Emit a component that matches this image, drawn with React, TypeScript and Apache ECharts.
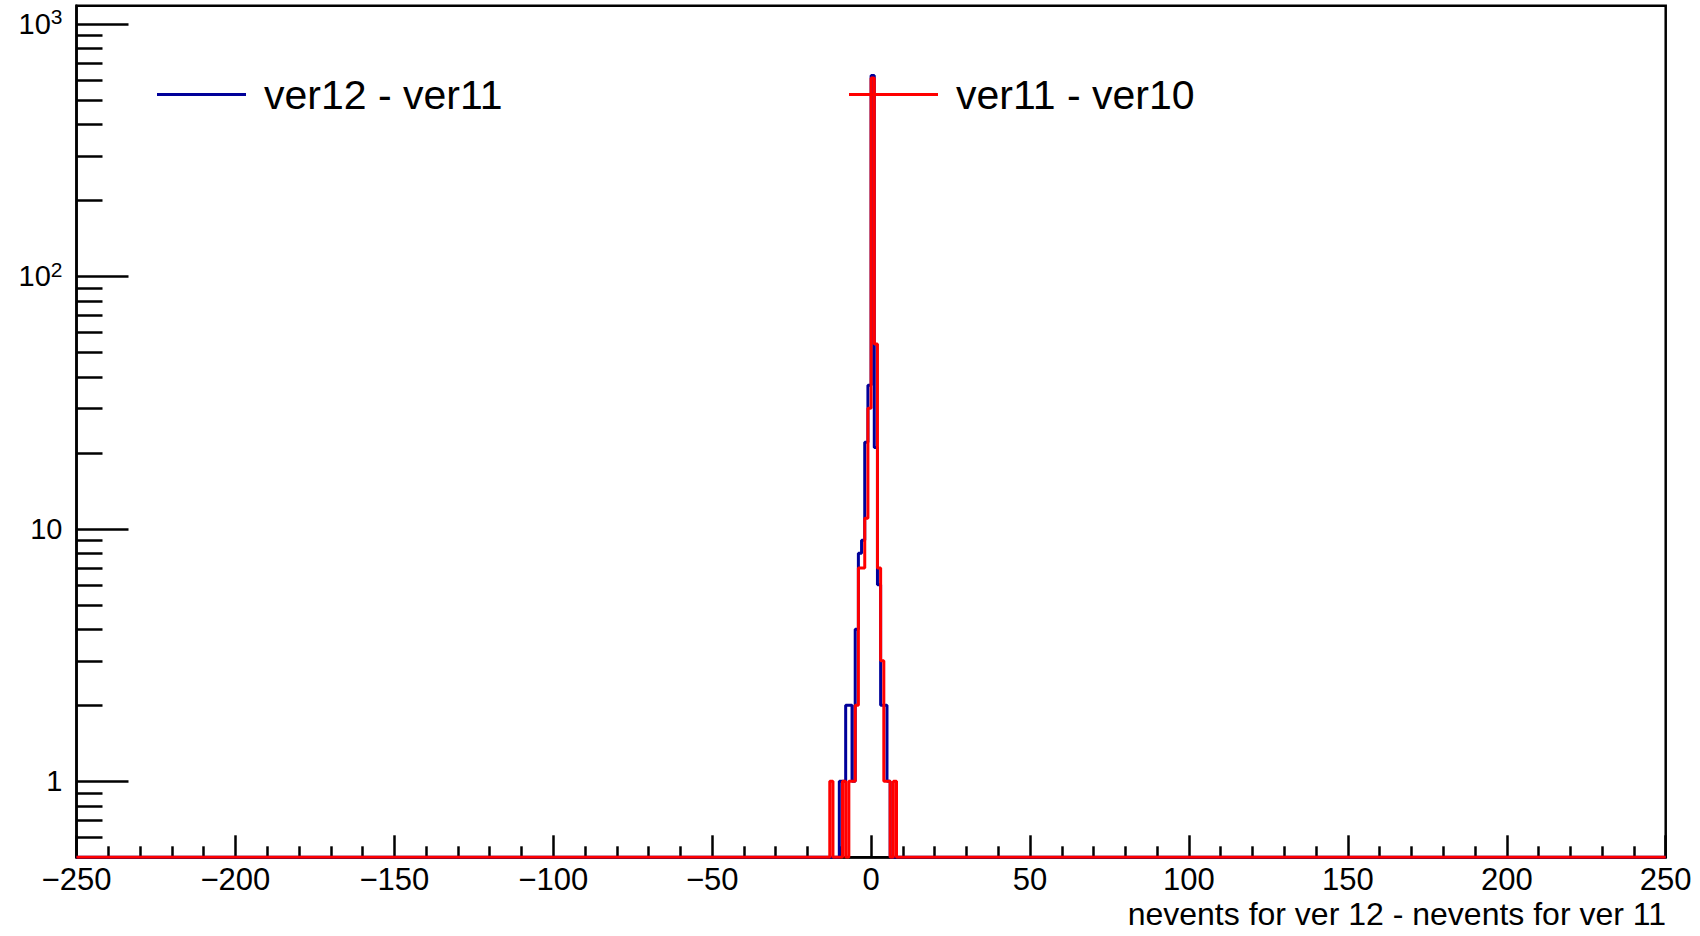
import React, { useEffect, useRef } from 'react';
import * as echarts from 'echarts';

// ---- axis ranges ----
const X_MIN = -250;
const X_MAX = 250;
const X_INTERVAL = 50;
const BIN_WIDTH = 1;
const Y_MIN = 0.5;
const Y_MAX = 1180;

// ---- y tick values (data space) ----
const Y_MAJOR_TICKS = [1, 10, 100, 1000];
const Y_MINOR_TICKS = [
  0.6, 0.7, 0.8, 0.9,
  2, 3, 4, 5, 6, 7, 8, 9,
  20, 30, 40, 50, 60, 70, 80, 90,
  200, 300, 400, 500, 600, 700, 800, 900,
];

// ---- histogram contents (bins of width 1, lower edges listed; all others empty) ----
const PEAK_BIN_LOW_EDGES = [-13, -12, -11, -10, -9, -8, -7, -6, -5, -4, -3, -2, -1, 0, 1, 2, 3, 4, 5, 6, 7];
const COUNTS_VER12_VER11 = [0, 0, 0, 1, 1, 2, 2, 1, 4, 8, 9, 22, 37, 624, 21, 6, 2, 2, 1, 0, 0];
const COUNTS_VER11_VER10 = [1, 0, 0, 0, 1, 0, 1, 1, 2, 7, 7, 11, 30, 610, 54, 7, 3, 1, 1, 0, 1];

const SERIES_NAMES = ['ver12 - ver11', 'ver11 - ver10'];
const SERIES_COLORS = ['#000099', '#ff0000'];
const X_TITLE = 'nevents for ver 12 - nevents for ver 11';

const FONT = '"Liberation Sans", Arial, Helvetica, sans-serif';

function buildSteps(counts: number[]): [number, number][] {
  const byEdge = new Map<number, number>();
  PEAK_BIN_LOW_EDGES.forEach((e, i) => byEdge.set(e, counts[i]));
  const nBins = Math.round((X_MAX - X_MIN) / BIN_WIDTH);
  const pts: [number, number][] = [];
  let last = 0;
  for (let i = 0; i < nBins; i++) {
    const lo = X_MIN + i * BIN_WIDTH;
    const c = byEdge.get(lo) ?? 0;
    // empty bins sit on the bottom of the log axis, as in the original
    pts.push([lo, c > 0 ? c : Y_MIN]);
    last = c;
  }
  pts.push([X_MAX, last > 0 ? last : Y_MIN]);
  return pts;
}

export default function App() {
  const ref = useRef<HTMLDivElement>(null);

  useEffect(() => {
    if (!ref.current) return;
    const chart = echarts.init(ref.current, undefined, { renderer: 'svg' });
    const black = '#000';
    const lw = 2.5;
    const logMin = Math.log10(Y_MIN);
    const logMax = Math.log10(Y_MAX);

    const legendBase = {
      top: 74,
      padding: 0,
      itemWidth: 89,
      itemHeight: 3,
      icon: 'rect',
      selectedMode: false,
      textStyle: { fontSize: 41, color: black, fontFamily: FONT, padding: [0, 0, 0, 13] },
    };

    const option: any = {
      animation: false,
      backgroundColor: '#fff',
      title: {
        text: X_TITLE,
        right: 34,
        top: 898,
        padding: 0,
        textStyle: { fontSize: 32, fontWeight: 'normal', color: black, fontFamily: FONT },
      },
      legend: [
        { ...legendBase, data: [SERIES_NAMES[0]], left: 157 },
        { ...legendBase, data: [SERIES_NAMES[1]], left: 849 },
      ],
      grid: {
        left: 76.5,
        right: 34.3,
        top: 5.7,
        bottom: 78.7,
        show: true,
        borderColor: black,
        borderWidth: lw,
        backgroundColor: 'transparent',
        outerBoundsMode: 'none',
      },
      xAxis: {
        type: 'value',
        min: X_MIN,
        max: X_MAX,
        interval: X_INTERVAL,
        axisLine: { show: true, onZero: false, lineStyle: { color: black, width: lw } },
        axisTick: { show: true, inside: true, length: 22, lineStyle: { color: black, width: lw } },
        minorTick: { show: true, splitNumber: 5, length: 11, lineStyle: { color: black, width: lw } },
        axisLabel: {
          margin: 7,
          fontSize: 31,
          color: black,
          fontFamily: FONT,
          formatter: (v: number) => (v < 0 ? '\u2212' + Math.abs(v) : String(v)),
        },
        splitLine: { show: false },
        minorSplitLine: { show: false },
      },
      yAxis: [
        {
          type: 'log',
          logBase: 10,
          min: Y_MIN,
          max: Y_MAX,
          position: 'left',
          show: false,
          splitLine: { show: false },
        },
        {
          type: 'value',
          position: 'left',
          min: logMin,
          max: logMax,
          axisLine: { show: true, onZero: false, lineStyle: { color: black, width: lw } },
          axisTick: {
            show: true,
            inside: true,
            length: 52,
            customValues: Y_MAJOR_TICKS.map((v) => Math.log10(v)),
            lineStyle: { color: black, width: lw },
          },
          axisLabel: {
            show: true,
            customValues: Y_MAJOR_TICKS.map((v) => Math.log10(v)),
            margin: 14,
            color: black,
            fontSize: 29,
            fontFamily: FONT,
            formatter: (v: number) => {
              const p = Math.round(v);
              if (p === 0) return '1';
              if (p === 1) return '10';
              return '10{sup|' + p + '}';
            },
            rich: {
              sup: { fontSize: 21, color: black, fontFamily: FONT, padding: [0, 0, 14, 0] },
            },
          },
          splitLine: { show: false },
        },
        {
          type: 'value',
          position: 'left',
          min: logMin,
          max: logMax,
          axisLine: { show: false },
          axisTick: {
            show: true,
            inside: true,
            length: 26,
            customValues: Y_MINOR_TICKS.map((v) => Math.log10(v)),
            lineStyle: { color: black, width: lw },
          },
          axisLabel: { show: false },
          splitLine: { show: false },
        },
      ],
      series: [
        {
          type: 'line',
          name: SERIES_NAMES[0],
          data: buildSteps(COUNTS_VER12_VER11),
          step: 'end',
          xAxisIndex: 0,
          yAxisIndex: 0,
          showSymbol: false,
          symbol: 'none',
          color: SERIES_COLORS[0],
          lineStyle: { width: 3, color: SERIES_COLORS[0] },
          silent: true,
          z: 3,
        },
        {
          type: 'line',
          name: SERIES_NAMES[1],
          data: buildSteps(COUNTS_VER11_VER10),
          step: 'end',
          xAxisIndex: 0,
          yAxisIndex: 0,
          showSymbol: false,
          symbol: 'none',
          color: SERIES_COLORS[1],
          lineStyle: { width: 3, color: SERIES_COLORS[1] },
          silent: true,
          z: 4,
        },
      ],
    };

    chart.setOption(option);
    return () => chart.dispose();
  }, []);

  return (
    <div
      ref={ref}
      style={{ position: 'absolute', left: 0, top: 0, width: 1700, height: 936, background: '#fff' }}
    />
  );
}
